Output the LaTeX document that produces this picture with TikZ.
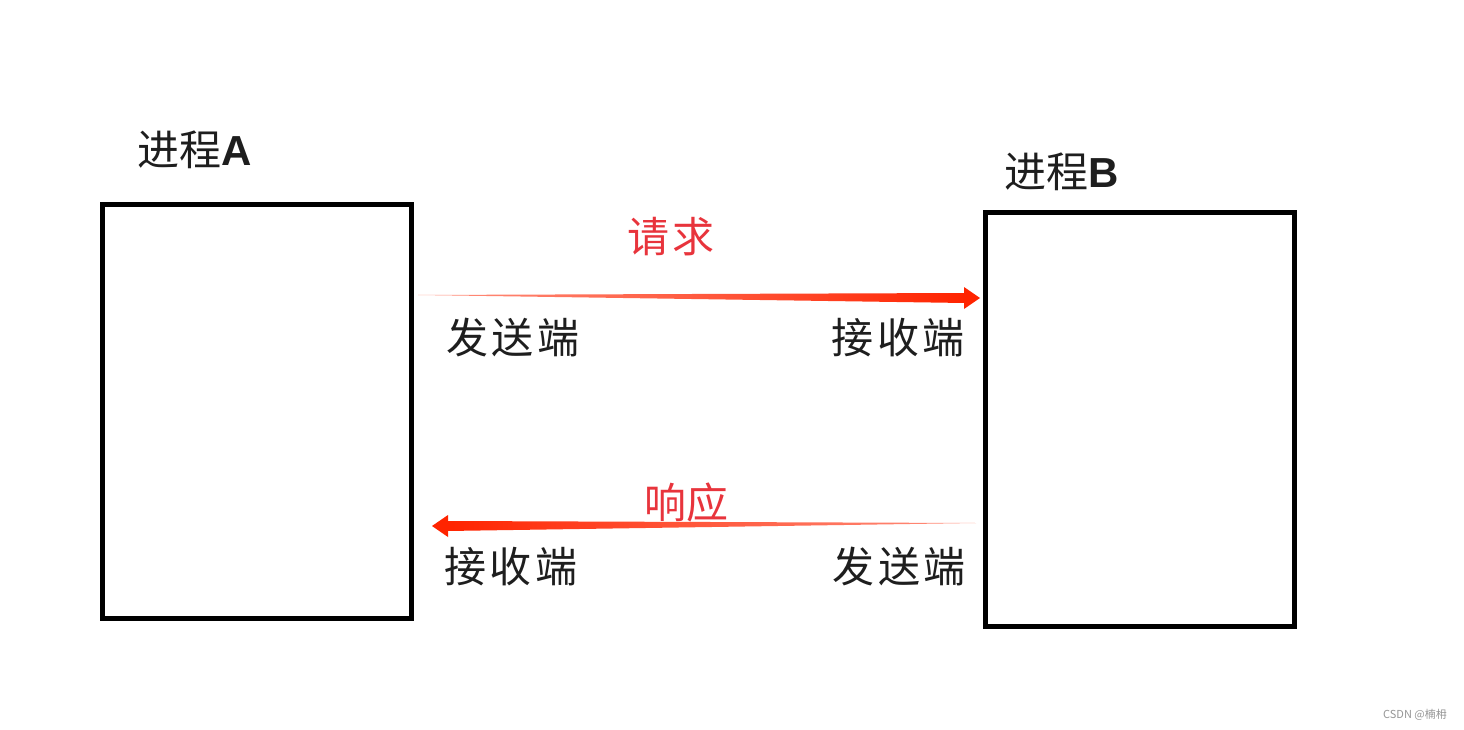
\documentclass[tikz,border=0pt]{standalone}
\usepackage{fontspec}
\newfontfamily\cjk{Noto Sans CJK SC}
\newfontfamily\lsans{Liberation Sans}
\usetikzlibrary{calc}
\definecolor{arrowred}{RGB}{255,36,0}
\definecolor{textred}{RGB}{232,52,60}
\definecolor{txtblack}{RGB}{30,30,30}
\definecolor{wmgray}{RGB}{150,150,150}
\tikzset{
  procbox/.style={draw=black, line width=5pt, minimum width=309pt, minimum height=414pt, inner sep=0pt, anchor=north west},
  title/.style={font=\cjk\fontsize{42}{44}\selectfont, text=txtblack, inner sep=0pt},
  lbl/.style={font=\cjk\fontsize{42}{44}\selectfont, text=txtblack, inner sep=0pt},
  rlbl/.style={font=\cjk\fontsize{42}{44}\selectfont, text=textred, inner sep=0pt},
}
\newcommand{\chgap}{\hspace{4pt}}
\begin{document}
\begin{tikzpicture}[x=1pt,y=-1pt]
\useasboundingbox (0,0) rectangle (1464,730);
\fill[white] (0,0) rectangle (1464,730);
% boxes
\node[procbox] (boxA) at (100,202) {};
\node[procbox] (boxB) at (983,210) {};
% titles
\node[title] (tA) at (195,150) {进程{\lsans\bfseries A}};
\node[title] (tB) at (1062,172) {进程{\lsans\bfseries B}};
% labels
\node[rlbl] (req) at (671,237) {请\chgap 求};
\node[rlbl] (resp) at (686,503) {响应};
\node[lbl] (sA) at (513,338) {发\chgap 送\chgap 端};
\node[lbl] (rB) at (898,338) {接\chgap 收\chgap 端};
\node[lbl] (rA) at (511,567) {接\chgap 收\chgap 端};
\node[lbl] (sB) at (899,567) {发\chgap 送\chgap 端};
% request arrow
\coordinate (t1) at (418,295);
\coordinate (h1) at (980,298);
\shade[left color=arrowred!50, middle color=arrowred, right color=arrowred]
  (t1) -- ($(h1)+(-15,-5)$) -- ($(h1)+(-15,5)$) -- cycle;
\fill[arrowred] ($(h1)+(-16,-11)$) -- (h1) -- ($(h1)+(-16,11)$) -- cycle;
% response arrow
\coordinate (t2) at (976,523);
\coordinate (h2) at (432,526);
\shade[left color=arrowred, middle color=arrowred, right color=arrowred!50]
  (t2) -- ($(h2)+(15,-5)$) -- ($(h2)+(15,5)$) -- cycle;
\fill[arrowred] ($(h2)+(16,-11)$) -- (h2) -- ($(h2)+(16,11)$) -- cycle;
% watermark
\node[font=\cjk\fontsize{11}{12}\selectfont, text=wmgray, inner sep=0pt] (wm) at (1415,715) {CSDN @楠枏};
\end{tikzpicture}
\end{document}
